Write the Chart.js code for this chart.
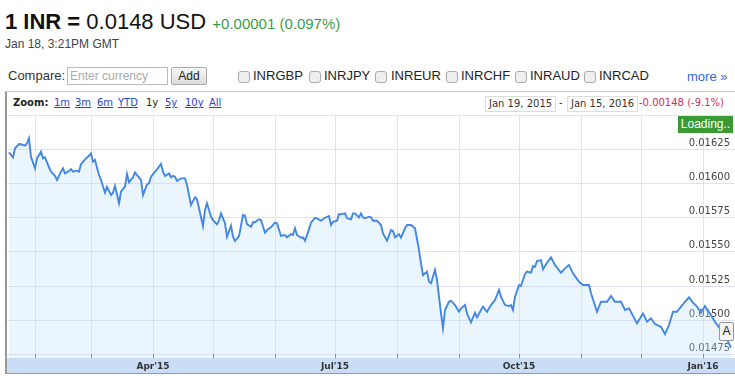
<!DOCTYPE html>
<html>
<head>
<meta charset="utf-8">
<script src="https://cdn.jsdelivr.net/npm/chart.js@4.4.0/dist/chart.umd.min.js"></script>
<style>
  body { margin: 0; width: 735px; height: 376px; background: #fff; position: relative; overflow: hidden; font-family: "Liberation Sans", Arial, sans-serif; }
  .abs { position: absolute; white-space: nowrap; }
  .v { font-family: "DejaVu Sans", Verdana, sans-serif; font-size: 10px; }
  .lnk { color: #2a45cc; text-decoration: underline; }
  .chk { position: absolute; top: 71px; width: 10px; height: 10px; border: 1px solid #aaa; border-radius: 3px; background: #eee; }
  .cur { top: 68px; font-size: 13px; color: #222; }
  .box { border: 1px solid #ddd; padding: 0 3px; top: 96px; height: 14px; line-height: 14px; color: #333; }
</style>
</head>
<body>
<div class="abs" style="left:5px;top:9px;line-height:25px;font-size:22px;color:#111;"><b>1 INR =</b> 0.0148 USD <span style="font-size:15px;color:#3c9c4c;">+0.00001 (0.097%)</span></div>
<div class="abs" style="left:5px;top:37px;font-size:12px;color:#444;">Jan 18, 3:21PM GMT</div>

<div class="abs" style="left:8px;top:68px;font-size:13px;color:#333;">Compare:</div>
<div class="abs" style="left:67px;top:67px;width:97px;height:16px;border:1px solid #bbb;font-size:12px;line-height:16px;color:#aaa;padding-left:2px;">Enter currency</div>
<div class="abs" style="left:171px;top:67px;width:34px;height:16px;border:1px solid #aaa;border-radius:2px;background:linear-gradient(#f8f8f8,#dcdcdc);font-size:12px;line-height:16px;text-align:center;color:#222;">Add</div>
<div class="chk" style="left:238px"></div><div class="abs cur" style="left:253px">INRGBP</div>
<div class="chk" style="left:309px"></div><div class="abs cur" style="left:324px">INRJPY</div>
<div class="chk" style="left:375px"></div><div class="abs cur" style="left:391px">INREUR</div>
<div class="chk" style="left:446px"></div><div class="abs cur" style="left:461px">INRCHF</div>
<div class="chk" style="left:515px"></div><div class="abs cur" style="left:530px">INRAUD</div>
<div class="chk" style="left:584px"></div><div class="abs cur" style="left:599px">INRCAD</div>
<div class="abs" style="left:687px;top:69px;font-size:13px;color:#3366cc;">more »</div>

<div class="abs" style="left:5px;top:91px;width:728px;height:281px;border-top:1px solid #ccc;border-left:2px solid #999;border-bottom:1px solid #999;"></div>
<div class="abs v" style="left:13px;top:97px;font-weight:bold;color:#222;">Zoom:</div>
<div class="abs v lnk" style="left:54px;top:97px;">1m</div>
<div class="abs v lnk" style="left:75px;top:97px;">3m</div>
<div class="abs v lnk" style="left:97px;top:97px;">6m</div>
<div class="abs v lnk" style="left:118px;top:97px;">YTD</div>
<div class="abs v" style="left:146px;top:97px;color:#222;">1y</div>
<div class="abs v lnk" style="left:165px;top:97px;">5y</div>
<div class="abs v lnk" style="left:185px;top:97px;">10y</div>
<div class="abs v lnk" style="left:209px;top:97px;">All</div>
<div class="abs v box" style="left:485px;">Jan 19, 2015</div>
<div class="abs v" style="left:559px;top:97px;color:#333;">-</div>
<div class="abs v box" style="left:567px;">Jan 15, 2016</div>
<div class="abs v" style="left:639px;top:97px;color:#cc3060;">-0.00148 (-9.1%)</div>

<canvas id="fxChart" class="abs" width="728" height="258" style="left:7px;top:115px;"></canvas>

<div class="abs" style="left:678px;top:116px;width:55px;height:17px;background:#3a9a33;color:#fff;font-size:12px;line-height:17px;text-align:center;z-index:2;">Loading..</div>
<div class="abs" style="left:719px;top:322px;width:13px;height:17px;border:1px solid #999;border-radius:2px;background:#f4f4f4;font-size:12px;line-height:17px;text-align:center;color:#222;z-index:2;">A</div>

<script>
// days counted from 1 Jan 2015
const days = [18, 20, 21, 23, 24, 26, 27, 28, 29, 31, 32, 34, 35, 36, 38, 39, 41, 42, 44, 45, 46, 48, 49, 50, 52, 53, 54, 56, 58, 59,
  60, 61, 63, 64, 66, 67, 69, 70, 71, 73, 74, 76, 77, 78, 80, 81, 82, 84, 85, 87, 88, 89, 91, 92, 94, 95, 96, 98, 99, 100,
  101, 102, 104, 106, 107, 109, 111, 112, 113, 115, 116, 117, 119, 120, 122, 123, 124, 126, 127, 129, 130, 131, 133, 135, 136, 137, 139, 140, 141, 143,
  144, 146, 147, 149, 151, 152, 154, 156, 157, 159, 160, 161, 162, 164, 165, 166, 168, 169, 171, 172, 174, 175, 176, 178, 179, 180, 182, 183, 184, 186,
  187, 189, 190, 191, 193, 194, 195, 196, 198, 199, 200, 202, 204, 205, 207, 209, 210, 211, 213, 214, 216, 217, 219, 221, 223, 224, 225, 227, 228, 229,
  231, 232, 233, 234, 235, 236, 238, 239, 241, 243, 244, 246, 247, 249, 251, 252, 254, 255, 257, 259, 261, 263, 264, 266, 268, 269, 270, 271, 273, 274,
  276, 277, 279, 280, 281, 282, 284, 285, 287, 289, 291, 294, 296, 298, 300, 303, 305, 308, 309, 312, 314, 317, 319, 321, 324, 326, 328, 332, 335, 337,
  339, 341, 344, 346, 348, 350, 352, 354, 356, 358, 360, 362, 364, 366, 367, 369, 371, 373, 376, 379];

// INR -> USD rate
const rates = [0.016227, 0.016191, 0.016257, 0.016288, 0.016286, 0.016276, 0.016293, 0.016330, 0.016195, 0.016110, 0.016183, 0.016232, 0.016183, 0.016191, 0.016118, 0.016086, 0.016056, 0.016025, 0.016086, 0.016110, 0.016074, 0.016091, 0.016105, 0.016086, 0.016093, 0.016086, 0.016140, 0.016176, 0.016202, 0.016220,
  0.016159, 0.016171, 0.016061, 0.016025, 0.015932, 0.015976, 0.015915, 0.015932, 0.015983, 0.015855, 0.015939, 0.015976, 0.016069, 0.016008, 0.016045, 0.016081, 0.016061, 0.016025, 0.015915, 0.015993, 0.016001, 0.016049, 0.016086, 0.016103, 0.016142, 0.016086, 0.016054, 0.016074, 0.016045, 0.016056,
  0.016049, 0.016018, 0.016037, 0.016037, 0.015988, 0.015842, 0.015898, 0.015884, 0.015818, 0.015689, 0.015806, 0.015855, 0.015757, 0.015732, 0.015701, 0.015732, 0.015781, 0.015708, 0.015610, 0.015691, 0.015610, 0.015579, 0.015615, 0.015769, 0.015764, 0.015703, 0.015683, 0.015716, 0.015716, 0.015738,
  0.015732, 0.015640, 0.015659, 0.015679, 0.015713, 0.015708, 0.015616, 0.015623, 0.015606, 0.015630, 0.015623, 0.015672, 0.015623, 0.015603, 0.015606, 0.015581, 0.015664, 0.015713, 0.015749, 0.015745, 0.015727, 0.015738, 0.015749, 0.015762, 0.015696, 0.015720, 0.015727, 0.015776, 0.015774, 0.015781,
  0.015745, 0.015738, 0.015781, 0.015781, 0.015752, 0.015781, 0.015752, 0.015745, 0.015757, 0.015752, 0.015727, 0.015727, 0.015696, 0.015635, 0.015581, 0.015659, 0.015652, 0.015606, 0.015628, 0.015603, 0.015672, 0.015696, 0.015696, 0.015672, 0.015513, 0.015416, 0.015330, 0.015355, 0.015281, 0.015270,
  0.015367, 0.015294, 0.015172, 0.015050, 0.014941, 0.015075, 0.015135, 0.015143, 0.015111, 0.015062, 0.015087, 0.015111, 0.015050, 0.014985, 0.015055, 0.015021, 0.015075, 0.015099, 0.015062, 0.015111, 0.015148, 0.015221, 0.015172, 0.015111, 0.015104, 0.015111, 0.015075, 0.015172, 0.015257, 0.015250,
  0.015338, 0.015355, 0.015347, 0.015396, 0.015391, 0.015433, 0.015440, 0.015372, 0.015420, 0.015460, 0.015404, 0.015347, 0.015379, 0.015404, 0.015343, 0.015281, 0.015257, 0.015257, 0.015197, 0.015062, 0.015135, 0.015135, 0.015177, 0.015135, 0.015135, 0.015075, 0.015087, 0.014977, 0.015050, 0.014989,
  0.015014, 0.014972, 0.014952, 0.014899, 0.014965, 0.015062, 0.015062, 0.015099, 0.015135, 0.015168, 0.015128, 0.015099, 0.015055, 0.015104, 0.015080, 0.015038, 0.014989, 0.014948, 0.014890, 0.014800];

// month starts (days from 1 Jan 2015) and their labels
const monthStarts = [31, 59, 90, 120, 151, 181, 212, 243, 273, 304, 334, 365];
const monthLabels = ['', '', "Apr'15", '', '', "Jul'15", '', '', "Oct'15", '', '', "Jan'16"];

const yTicks = [0.01475, 0.01500, 0.01525, 0.01550, 0.01575, 0.01600, 0.01625, 0.01650];
const yTickLabels = ['0.01475', '0.01500', '0.01525', '0.01550', '0.01575', '0.01600', '0.01625', ''];

// light blue band under the x axis plus small month ticks
const axisBand = {
    id: 'axisBand',
    beforeDraw(chart) {
        const { ctx, chartArea, width, height } = chart;
        ctx.save();
        ctx.fillStyle = '#c9ddf6';
        ctx.fillRect(0, chartArea.bottom, width, height - chartArea.bottom);
        ctx.restore();
    },
    afterDatasetsDraw(chart) {
        const { ctx, chartArea, scales } = chart;
        ctx.save();
        ctx.strokeStyle = '#8a8a8a';
        ctx.lineWidth = 1;
        monthStarts.forEach(d => {
            const px = Math.round(scales.x.getPixelForValue(d)) + 0.5;
            ctx.beginPath();
            ctx.moveTo(px, chartArea.bottom - 4);
            ctx.lineTo(px, chartArea.bottom);
            ctx.stroke();
        });
        ctx.restore();
    }
};

const ctx = document.getElementById('fxChart').getContext('2d');

new Chart(ctx, {
    type: 'line',
    data: {
        datasets: [{
            data: rates.map((r, i) => ({ x: days[i], y: r })),
            borderColor: '#4287e4',
            borderWidth: 1.9,
            backgroundColor: 'rgba(190, 222, 252, 0.3)',
            fill: 'start',
            pointRadius: 0,
            tension: 0
        }]
    },
    options: {
        responsive: false,
        animation: false,
        layout: { padding: 0 },
        plugins: {
            legend: { display: false },
            tooltip: { enabled: false }
        },
        scales: {
            x: {
                type: 'linear',
                min: 17,
                max: 381,
                afterBuildTicks: axis => { axis.ticks = monthStarts.map(v => ({ value: v })); },
                afterFit: axis => { axis.height = 15; axis.paddingLeft = 0; axis.paddingRight = 0; },
                ticks: {
                    autoSkip: false,
                    maxRotation: 0,
                    padding: 3,
                    color: '#333',
                    font: { family: 'DejaVu Sans', size: 9, weight: 'bold' },
                    callback: (v, i) => monthLabels[i]
                },
                grid: { color: '#e2e6e2', drawTicks: false },
                border: { display: false }
            },
            y: {
                position: 'right',
                min: 0.014724,
                max: 0.0165,
                afterBuildTicks: axis => { axis.ticks = yTicks.map(v => ({ value: v })); },
                afterFit: axis => { axis.width = 0; axis.paddingTop = 0; axis.paddingBottom = 0; },
                ticks: {
                    mirror: true,
                    padding: -5,
                    labelOffset: -6,
                    color: '#444',
                    font: { family: 'DejaVu Sans', size: 10 },
                    callback: (v, i) => yTickLabels[i]
                },
                grid: { color: '#e1e1f2', drawTicks: false },
                border: { display: false }
            }
        }
    },
    plugins: [axisBand]
});
</script>
</body>
</html>
